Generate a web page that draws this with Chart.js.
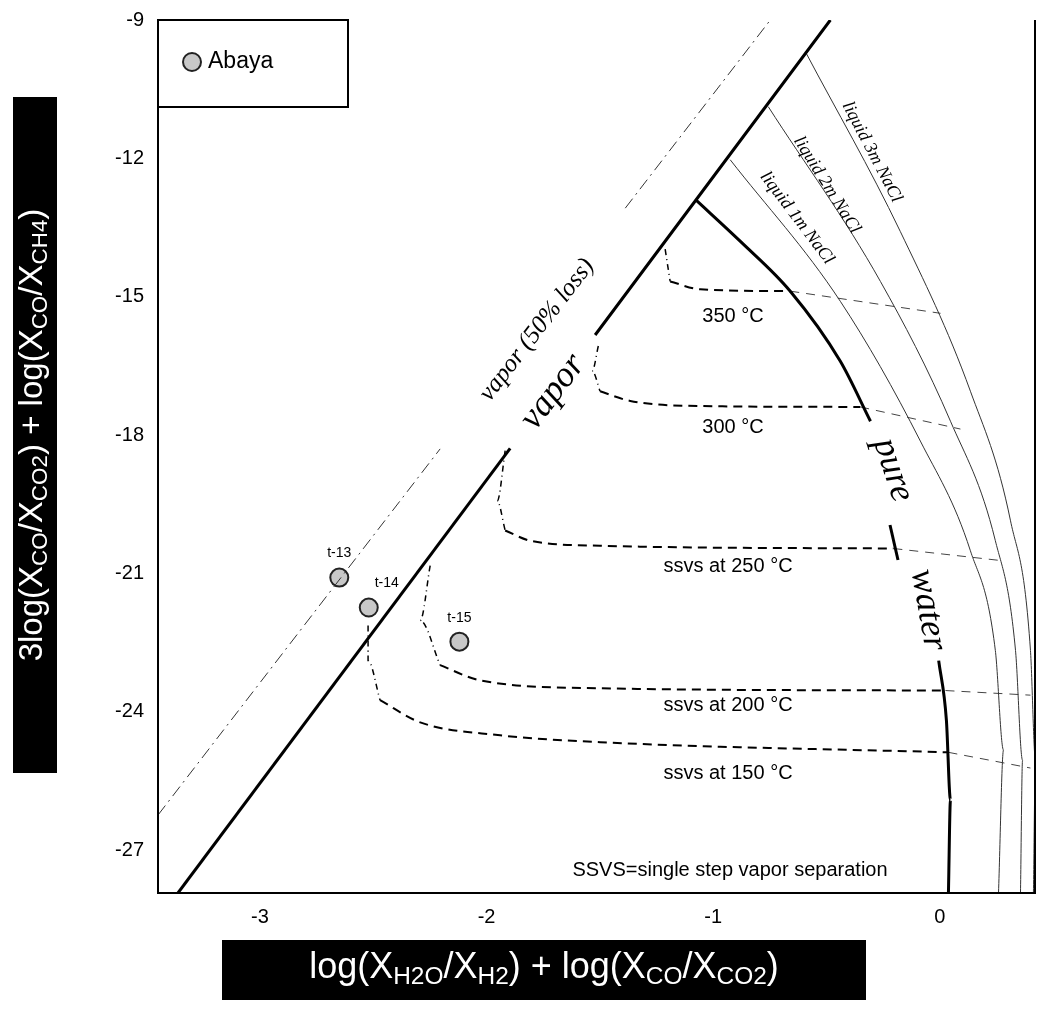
<!DOCTYPE html>
<html>
<head>
<meta charset="utf-8">
<script src="https://cdn.jsdelivr.net/npm/chart.js@4.4.0/dist/chart.umd.min.js"></script>
<style>
  body { margin: 0; background: #fff; }
  #wrap { width: 1052px; height: 1016px; }
</style>
</head>
<body>
<div id="wrap"><canvas id="chart"></canvas></div>
<script>
// tick labels
var xTicks = [-3, -2, -1, 0];
var yTicks = [-27, -24, -21, -18, -15, -12, -9];

// samples
var sampleNames = ['t-13', 't-14', 't-15'];
var sampleX = [-2.65, -2.52, -2.12];
var sampleY = [-21.09, -21.74, -22.48];

// reference lines
var vaporLow = [[-3.362, -27.93], [-1.896, -18.29]];
var vaporHigh = [[-1.521, -15.83], [-0.483, -9.0]];
var lossLow = [[-3.45, -26.24], [-2.205, -18.30]];
var lossHigh = [[-1.388, -13.08], [-0.748, -9.0]];
var pureTop = [[-1.079, -12.89], [-0.880, -13.80], [-0.660, -14.88], [-0.439, -16.40], [-0.306, -17.70]];
var pureBottom = [[-0.005, -22.89], [0.029, -24.18], [0.047, -25.91], [0.038, -27.93]];
var liquid1m = [[-0.925, -12.03], [-0.439, -15.10], [-0.086, -18.13], [0.135, -20.51], [0.245, -22.67], [0.281, -24.83], [0.259, -27.93]];
var liquid2m = [[-0.757, -10.88], [-0.262, -14.67], [0.047, -17.70], [0.245, -20.29], [0.334, -22.67], [0.365, -25.05], [0.356, -27.93]];
var liquid3m = [[-0.593, -9.69], [-0.174, -13.59], [0.135, -17.05], [0.312, -19.86], [0.400, -22.67], [0.422, -25.05], [0.413, -27.93]];

// isotherms: [dotted start, dashed to pure water, thin extension]
var iso350 = [[[-1.212, -13.97], [-1.190, -14.67]], [[-1.190, -14.67], [-1.057, -14.84], [-0.660, -14.88]], [[-0.660, -14.88], [0.003, -15.36]]];
var iso300 = [[[-1.507, -16.07], [-1.534, -16.61], [-1.499, -17.05]], [[-1.499, -17.05], [-1.366, -17.26], [-1.057, -17.37], [-0.351, -17.39]], [[-0.351, -17.39], [0.091, -17.87]]];
var iso250 = [[[-1.918, -18.34], [-1.953, -19.43], [-1.918, -20.07]], [[-1.918, -20.07], [-1.808, -20.29], [-1.499, -20.40], [-0.205, -20.46]], [[-0.205, -20.46], [0.267, -20.72]]];
var iso200 = [[[-2.249, -20.83], [-2.293, -22.02], [-2.205, -22.99]], [[-2.205, -22.99], [-2.028, -23.32], [-1.499, -23.49], [0.025, -23.54]], [[0.025, -23.54], [0.400, -23.64]]];
var iso150 = [[[-2.523, -22.13], [-2.523, -22.89], [-2.470, -23.75]], [[-2.470, -23.75], [-2.293, -24.23], [-1.940, -24.51], [-1.499, -24.66], [0.038, -24.88]], [[0.038, -24.88], [0.400, -25.22]]];

function pts(a) { return a.map(function (p) { return { x: p[0], y: p[1] }; }); }
function line(a, w, dash, color, tension) {
    return { type: 'line', data: pts(a), borderColor: color || '#000', borderWidth: w, borderDash: dash || [],
        pointRadius: 0, fill: false, tension: tension || 0, cubicInterpolationMode: 'monotone' };
}

var datasets = [
    line(vaporLow, 3), line(vaporHigh, 3),
    line(lossLow, 1, [12, 5, 2, 5], '#333'), line(lossHigh, 1, [12, 5, 2, 5], '#333'),
    line(pureTop, 3, [], '#000', 0.4), line(pureBottom, 3, [], '#000', 0.4),
    line(liquid1m, 1, [], '#333', 0.4), line(liquid2m, 1, [], '#333', 0.4), line(liquid3m, 1, [], '#333', 0.4)
];
[iso350, iso300, iso250, iso200, iso150].forEach(function (iso) {
    datasets.push(line(iso[0], 1.5, [6, 4, 1, 4], '#000', 0.4));
    datasets.push(line(iso[1], 2, [9, 6], '#000', 0.4));
    datasets.push(line(iso[2], 1, [9, 7], '#444'));
});
datasets.push({
    type: 'scatter', label: 'Abaya',
    data: sampleX.map(function (x, i) { return { x: x, y: sampleY[i] }; }),
    backgroundColor: '#c8c8c8', borderColor: '#222', borderWidth: 2, pointRadius: 9
});

function rich(ctx, segs, cx, cy, size, color) {
    var w = 0;
    segs.forEach(function (s) {
        ctx.font = (s[1] ? size * 0.68 : size) + 'px "Liberation Sans", Arial, sans-serif';
        w += ctx.measureText(s[0]).width;
    });
    var x = cx - w / 2;
    ctx.fillStyle = color;
    ctx.textBaseline = 'middle';
    ctx.textAlign = 'left';
    segs.forEach(function (s) {
        ctx.font = (s[1] ? size * 0.68 : size) + 'px "Liberation Sans", Arial, sans-serif';
        ctx.fillText(s[0], x, s[1] ? cy + size * 0.25 : cy);
        x += ctx.measureText(s[0]).width;
    });
}

function txt(ctx, s, x, y, font, angle, align) {
    ctx.save();
    ctx.translate(x, y);
    ctx.rotate((angle || 0) * Math.PI / 180);
    ctx.font = font;
    ctx.fillStyle = '#000';
    ctx.textAlign = align || 'center';
    ctx.textBaseline = 'middle';
    ctx.fillText(s, 0, 0);
    ctx.restore();
}

var decorations = {
    id: 'decorations',
    afterDatasetsDraw: function (chart) {
        var ctx = chart.ctx, xs = chart.scales.x, ys = chart.scales.y, a = chart.chartArea;
        function X(v) { return xs.getPixelForValue(v); }
        function Y(v) { return ys.getPixelForValue(v); }
        ctx.save();
        // frame
        ctx.strokeStyle = '#000'; ctx.lineWidth = 2;
        ctx.beginPath();
        ctx.moveTo(a.left, a.top); ctx.lineTo(a.left, a.bottom); ctx.lineTo(a.right, a.bottom); ctx.lineTo(a.right, a.top);
        ctx.stroke();
        // legend
        ctx.strokeRect(a.left, a.top, 190, 87);
        ctx.beginPath(); ctx.arc(a.left + 34, a.top + 42, 9, 0, Math.PI * 2);
        ctx.fillStyle = '#c8c8c8'; ctx.fill(); ctx.strokeStyle = '#222'; ctx.stroke();
        txt(ctx, 'Abaya', a.left + 50, a.top + 42, '23px "Liberation Sans", Arial', 0, 'left');
        // sample labels
        sampleNames.forEach(function (n, i) {
            txt(ctx, n, X(sampleX[i]) + (i === 1 ? 18 : 0), Y(sampleY[i]) - 24, '14px "Liberation Sans", Arial');
        });
        var sans = '20px "Liberation Sans", Arial';
        txt(ctx, '350 °C', 733, 316, sans);
        txt(ctx, '300 °C', 733, 427, sans);
        txt(ctx, 'ssvs at 250 °C', 728, 566, sans);
        txt(ctx, 'ssvs at 200 °C', 728, 705, sans);
        txt(ctx, 'ssvs at 150 °C', 728, 773, sans);
        txt(ctx, 'SSVS=single step vapor separation', 730, 870, sans);
        var serif = 'italic 36px "Liberation Serif", "DejaVu Serif", serif';
        txt(ctx, 'vapor', 553, 392, serif, -53);
        txt(ctx, 'vapor (50% loss)', 537, 330, 'italic 25px "Liberation Serif", serif', -52.5);
        txt(ctx, 'pure', 893, 470, serif, 72);
        txt(ctx, 'water', 928, 610, serif, 80);
        ctx.beginPath(); ctx.moveTo(890, 525); ctx.lineTo(898, 560); ctx.lineWidth = 3; ctx.strokeStyle = '#000'; ctx.stroke();
        var small = 'italic 18px "Liberation Serif", serif';
        txt(ctx, 'liquid 1m NaCl', 797, 218, small, 53);
        txt(ctx, 'liquid 2m NaCl', 827, 185, small, 58);
        txt(ctx, 'liquid 3m NaCl', 872, 152, small, 62.5);
        // axis titles
        ctx.fillStyle = '#000';
        ctx.fillRect(222, 940, 644, 60);
        rich(ctx, [['log(X'], ['H2O', 1], ['/X'], ['H2', 1], [') + log(X'], ['CO', 1], ['/X'], ['CO2', 1], [')']], 544, 968, 36, '#fff');
        ctx.save();
        ctx.translate(35, 435); ctx.rotate(-Math.PI / 2);
        ctx.fillStyle = '#000';
        ctx.fillRect(-338, -22, 676, 44);
        rich(ctx, [['3log(X'], ['CO', 1], ['/X'], ['CO2', 1], [') + log(X'], ['CO', 1], ['/X'], ['CH4', 1], [')']], 0, -2, 33, '#fff');
        ctx.restore();
        ctx.restore();
    }
};

new Chart(document.getElementById('chart'), {
    data: { datasets: datasets },
    options: {
        responsive: true, maintainAspectRatio: false, animation: false,
        layout: { padding: { top: 18, right: 17, left: 0, bottom: 0 } },
        plugins: { legend: { display: false }, tooltip: { enabled: false } },
        scales: {
            x: {
                type: 'linear', min: -3.45, max: 0.42,
                grid: { display: false, drawTicks: true, tickLength: 6, color: '#000' },
                border: { display: false },
                afterBuildTicks: function (s) { s.ticks = xTicks.map(function (v) { return { value: v }; }); },
                afterFit: function (s) { s.height = 123; },
                ticks: { color: '#000', font: { size: 20, family: '"Liberation Sans", Arial' }, padding: 6 }
            },
            y: {
                type: 'linear', min: -27.93, max: -9,
                grid: { display: false, drawTicks: true, tickLength: 6, color: '#000' },
                border: { display: false },
                afterBuildTicks: function (s) { s.ticks = yTicks.map(function (v) { return { value: v }; }); },
                afterFit: function (s) { s.width = 158; },
                ticks: { color: '#000', font: { size: 20, family: '"Liberation Sans", Arial' }, padding: 8 }
            }
        }
    },
    plugins: [decorations]
});
</script>
</body>
</html>
